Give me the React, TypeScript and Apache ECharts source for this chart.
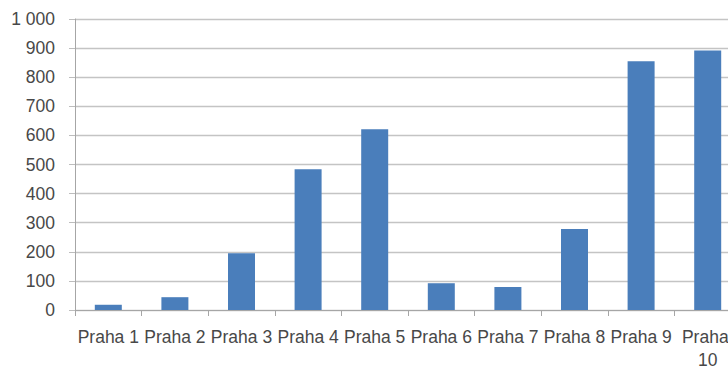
import React, { useEffect, useRef } from "react";
import * as echarts from "echarts";

const categories = ["Praha 1", "Praha 2", "Praha 3", "Praha 4", "Praha 5", "Praha 6", "Praha 7", "Praha 8", "Praha 9", "Praha 10"];
const values = [18, 44, 195, 484, 621, 92, 79, 278, 855, 892];
const yTicks = { min: 0, max: 1000, interval: 100 };

const fmt = (v: number) => String(v).replace(/\B(?=(\d{3})+(?!\d))/g, " ");

export default function App() {
  const ref = useRef<HTMLDivElement>(null);
  useEffect(() => {
    if (!ref.current) return;
    const chart = echarts.init(ref.current, null, { renderer: "svg" });
    const font = "'Liberation Sans', Arial, sans-serif";
    chart.setOption({
      animation: false,
      grid: { left: 75, top: 19, width: 666, height: 291, outerBoundsMode: "none", containLabel: false },
      xAxis: {
        type: "category",
        data: categories,
        axisLine: { show: true, lineStyle: { color: "#a6a6a6", width: 1 } },
        axisTick: { show: true, length: 6, alignWithLabel: false, lineStyle: { color: "#a6a6a6" } },
        axisLabel: {
          interval: 0,
          margin: 15,
          color: "#484848",
          fontFamily: font,
          fontSize: 17.5,
          width: 66,
          overflow: "break",
          lineHeight: 23,
        },
      },
      yAxis: {
        type: "value",
        min: yTicks.min,
        max: yTicks.max,
        interval: yTicks.interval,
        axisLine: { show: true, lineStyle: { color: "#a6a6a6", width: 1 } },
        axisTick: { show: true, length: 6, lineStyle: { color: "#bdbdbd" } },
        splitLine: { show: true, lineStyle: { color: "#c4c4c4", width: 1.3 } },
        axisLabel: {
          margin: 20,
          color: "#484848",
          fontFamily: font,
          fontSize: 17.5,
          formatter: (v: number) => fmt(v),
        },
      },
      series: [
        {
          type: "bar",
          data: values,
          barWidth: 27,
          itemStyle: { color: "#4a7ebb" },
        },
      ],
    });
    return () => chart.dispose();
  }, []);
  return (
    <div
      ref={ref}
      style={{ position: "fixed", left: 0, top: 0, width: 728, height: 369, background: "#ffffff" }}
    />
  );
}
